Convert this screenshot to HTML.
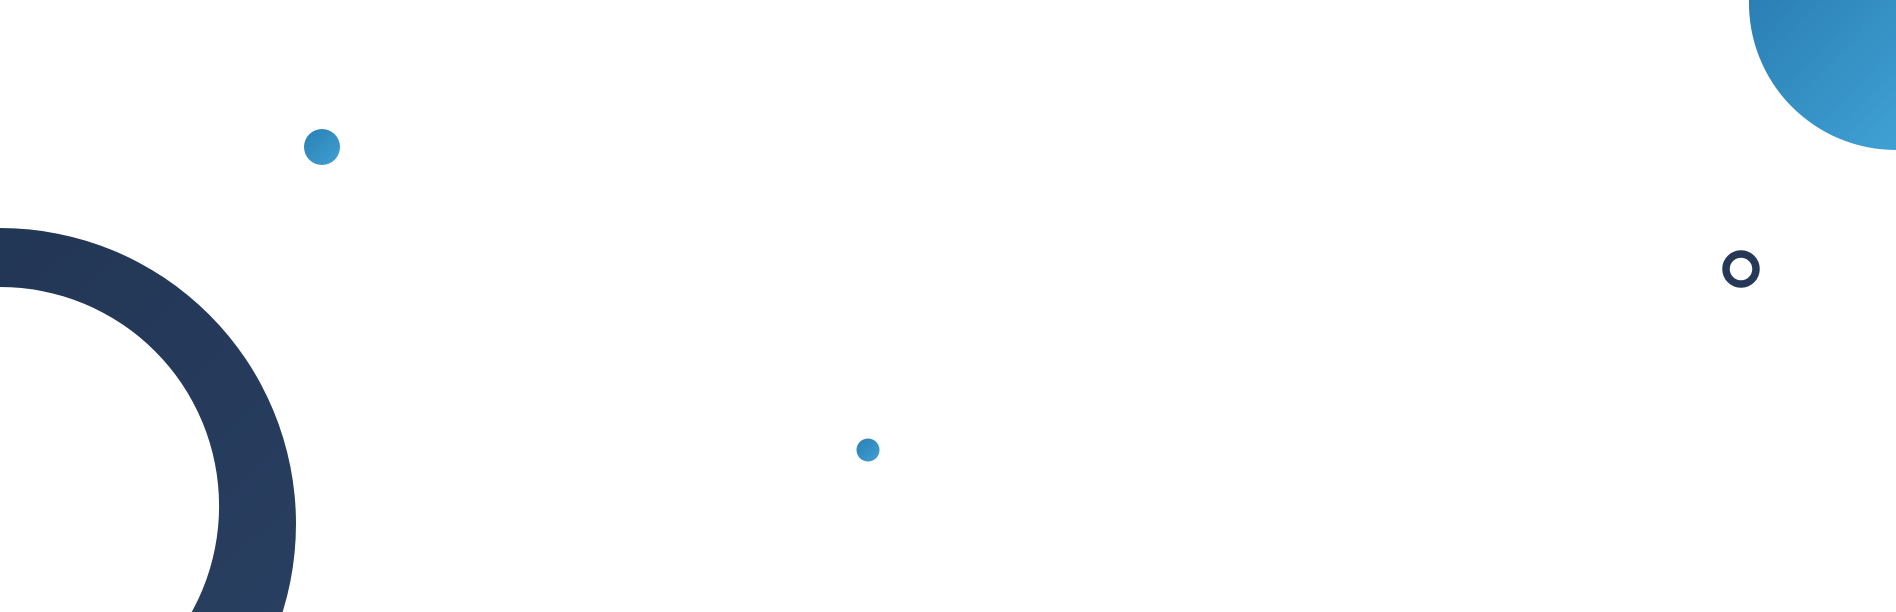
<!DOCTYPE html>
<html><head><style>html,body{margin:0;padding:0;background:#fff;width:1896px;height:612px;overflow:hidden}svg{display:block}</style></head>
<body>
<svg width="1896" height="612" viewBox="0 0 1896 612" xmlns="http://www.w3.org/2000/svg">
<defs>
<linearGradient id="b" x1="0" y1="0" x2="1" y2="1"><stop offset="0" stop-color="#2a7fb3"/><stop offset="1" stop-color="#40a0d4"/></linearGradient>
<linearGradient id="d" x1="0" y1="0" x2="1" y2="1"><stop offset="0" stop-color="#1f3150"/><stop offset="1" stop-color="#2b4264"/></linearGradient>
</defs>
<path fill="url(#d)" fill-rule="evenodd" d="M0,228 A296,296 0 1,1 0,820 A296,296 0 1,1 0,228 Z M0,287 A219,219 0 1,1 0,725 A219,219 0 1,1 0,287 Z"/>
<path fill="url(#b)" d="M1749,0 A147,147 0 0,0 1896,150 L1896,0 Z"/>
<circle cx="322" cy="147" r="18" fill="url(#b)"/>
<circle cx="868" cy="450" r="11.5" fill="url(#b)"/>
<circle cx="1741" cy="269" r="15" fill="none" stroke="#253858" stroke-width="7.5"/>
</svg>
</body></html>
